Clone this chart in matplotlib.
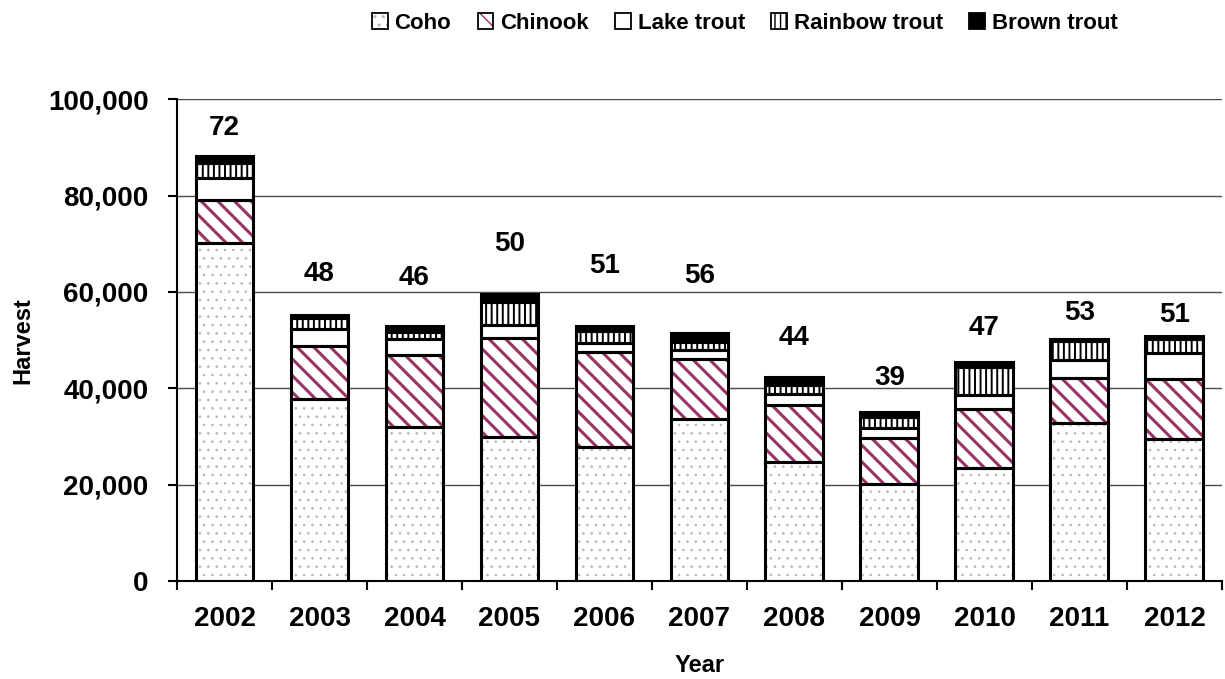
import matplotlib
matplotlib.use("Agg")
import matplotlib.pyplot as plt
from matplotlib.patches import Patch
import numpy as np

plt.rcParams['font.family'] = ['Liberation Sans', 'DejaVu Sans']
plt.rcParams['font.weight'] = 'bold'

years = ['2002', '2003', '2004', '2005', '2006', '2007', '2008', '2009', '2010', '2011', '2012']
coho = [70100, 37800, 32000, 29900, 27800, 33600, 24700, 20100, 23400, 32800, 29500]
chinook = [8900, 11000, 14900, 20500, 19700, 12500, 11800, 9500, 12200, 9300, 12500]
lake_trout = [4600, 3500, 3300, 2700, 1900, 1900, 2300, 2100, 3100, 3700, 5400]
rainbow_trout = [3100, 2300, 1500, 4800, 2500, 1500, 1900, 2300, 5800, 4100, 2900]
brown_trout = [1500, 700, 1200, 1700, 1000, 1900, 1700, 1000, 1000, 400, 600]
# numbers printed over the bars and the height they sit at
top_labels = ['72', '48', '46', '50', '51', '56', '44', '39', '47', '53', '51']
label_y = [94000, 63700, 62900, 69900, 65400, 63300, 50400, 42100, 52500, 55600, 55200]

series = [
    ('Coho', coho, 'white', '..', '#b4b4b4', 0.6),
    ('Chinook', chinook, 'white', '\\\\', '#993366', 2.2),
    ('Lake trout', lake_trout, 'white', None, 'black', 1.0),
    ('Rainbow trout', rainbow_trout, 'white', '|||', 'black', 1.4),
    ('Brown trout', brown_trout, 'black', None, 'black', 1.0),
]

fig = plt.figure(figsize=(12.25, 6.79), dpi=100)
ax = fig.add_axes([0.1445, 0.1443, 0.853, 0.7097])

x = np.arange(len(years))
width = 0.61
bottom = np.zeros(len(years))
handles = []
for name, vals, face, hatch, hcol, hlw in series:
    with plt.rc_context({'hatch.linewidth': hlw}):
        ax.bar(x, vals, width, bottom=bottom, color=face, hatch=hatch,
               edgecolor=hcol, linewidth=0, zorder=2)
        p1 = Patch(facecolor=face, hatch=hatch, edgecolor=hcol, linewidth=0)
    ax.bar(x, vals, width, bottom=bottom, fill=False, edgecolor='black',
           linewidth=2.2, zorder=3)
    p2 = Patch(fill=False, edgecolor='black', linewidth=1.3)
    handles.append((p1, p2))
    bottom += np.array(vals)

for xi, lab, ly in zip(x, top_labels, label_y):
    ax.text(xi, ly, lab, ha='center', va='center', fontsize=20, fontweight='bold')

ax.set_xlim(-0.5, len(years) - 0.5)
ax.set_ylim(0, 100000)
ax.set_yticks(np.arange(0, 100001, 20000))
ax.set_yticklabels(['{:,}'.format(v) for v in range(0, 100001, 20000)])
ax.yaxis.grid(True, color='#4a4a4a', linewidth=1.0, zorder=0)
ax.set_axisbelow(True)

ax.set_xticks(x)
ax.set_xticklabels(years)
ax.set_xticks(np.arange(-0.5, len(years), 1.0), minor=True)
ax.tick_params(axis='x', which='major', length=0, pad=18, labelsize=20)
ax.tick_params(axis='x', which='minor', length=6.5, width=1.5, direction='out')
ax.tick_params(axis='y', length=6.5, width=1.5, direction='out', pad=14, labelsize=20)

for s in ['top', 'right']:
    ax.spines[s].set_visible(False)
ax.spines['left'].set_linewidth(1.5)
ax.spines['bottom'].set_linewidth(1.5)

ax.set_xlabel('Year', fontsize=17, fontweight='bold', labelpad=16)
ax.set_ylabel('Harvest', fontsize=17, fontweight='bold', labelpad=10)

fig.legend(handles, [s[0] for s in series], loc='center', bbox_to_anchor=(0.608, 0.966),
           ncol=5, frameon=False, fontsize=16, handlelength=0.7, handleheight=0.7,
           handletextpad=0.3, columnspacing=1.2)

fig.savefig('out.png', dpi=100)
